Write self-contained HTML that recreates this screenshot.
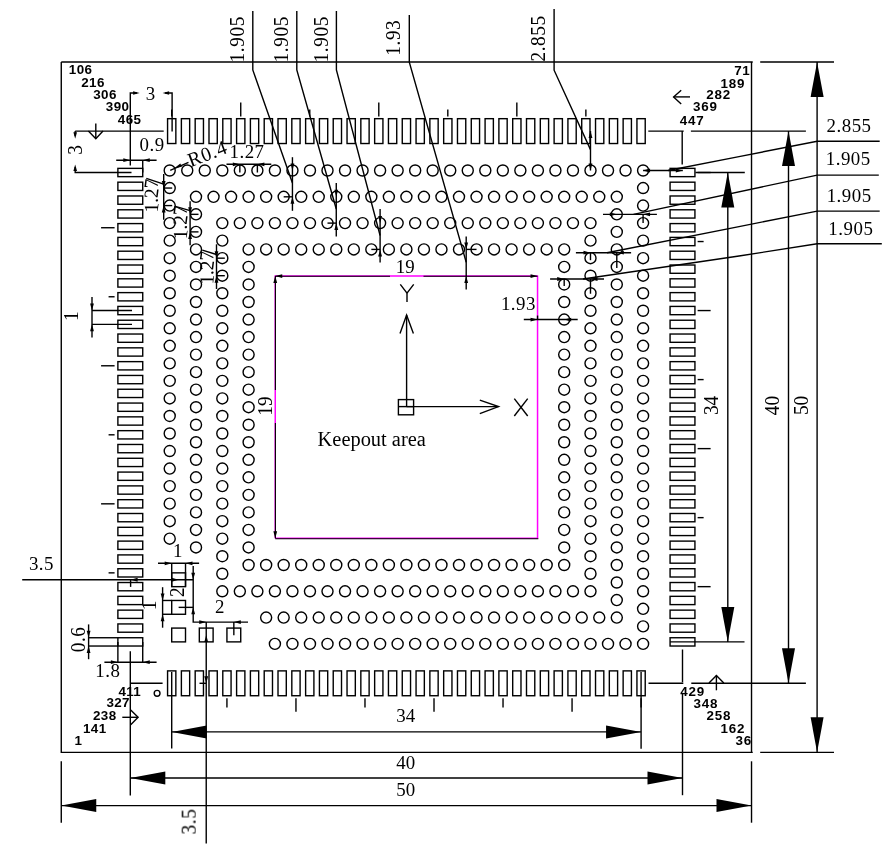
<!DOCTYPE html>
<html><head><meta charset="utf-8"><title>Package outline</title>
<style>
html,body{margin:0;padding:0;background:#fff;}
body{width:889px;height:853px;overflow:hidden;}
svg{display:block;}
.t{filter:grayscale(1);}
.l path,.l rect,.l circle{fill:none;stroke:#000;stroke-width:1.4;}
.m path{fill:none;stroke:#ff00ff;stroke-width:1.5;}
.k path{fill:none;stroke:#000;stroke-width:1.1;}
.f{fill:#000;stroke:none;}
text{fill:#000;}
.s{font-family:"Liberation Serif",serif;}
.b{font-family:"Liberation Sans",sans-serif;font-weight:bold;}
</style></head><body>
<svg width="889" height="853" viewBox="0 0 889 853">
<rect x="0" y="0" width="889" height="853" fill="#fff"/>
<g class="l">
<path d="M61.27 62.07L752.73 62.07"/>
<path d="M61.27 62.07L61.27 752.33L752.73 752.33"/>
<path d="M751.52 62.07L751.52 752.33"/>
<rect x="167.57" y="118.68" width="8.28" height="24.85"/>
<rect x="167.57" y="670.88" width="8.28" height="24.85"/>
<rect x="117.88" y="168.37" width="24.85" height="8.28"/>
<rect x="670.08" y="168.37" width="24.85" height="8.28"/>
<rect x="181.38" y="118.68" width="8.28" height="24.85"/>
<rect x="181.38" y="670.88" width="8.28" height="24.85"/>
<rect x="117.88" y="182.18" width="24.85" height="8.28"/>
<rect x="670.08" y="182.18" width="24.85" height="8.28"/>
<rect x="195.18" y="118.68" width="8.28" height="24.85"/>
<rect x="195.18" y="670.88" width="8.28" height="24.85"/>
<rect x="117.88" y="195.98" width="24.85" height="8.28"/>
<rect x="670.08" y="195.98" width="24.85" height="8.28"/>
<rect x="208.99" y="118.68" width="8.28" height="24.85"/>
<rect x="208.99" y="670.88" width="8.28" height="24.85"/>
<rect x="117.88" y="209.79" width="24.85" height="8.28"/>
<rect x="670.08" y="209.79" width="24.85" height="8.28"/>
<rect x="222.79" y="118.68" width="8.28" height="24.85"/>
<rect x="222.79" y="670.88" width="8.28" height="24.85"/>
<rect x="117.88" y="223.59" width="24.85" height="8.28"/>
<rect x="670.08" y="223.59" width="24.85" height="8.28"/>
<rect x="236.6" y="118.68" width="8.28" height="24.85"/>
<rect x="236.6" y="670.88" width="8.28" height="24.85"/>
<rect x="117.88" y="237.4" width="24.85" height="8.28"/>
<rect x="670.08" y="237.4" width="24.85" height="8.28"/>
<rect x="250.4" y="118.68" width="8.28" height="24.85"/>
<rect x="250.4" y="670.88" width="8.28" height="24.85"/>
<rect x="117.88" y="251.2" width="24.85" height="8.28"/>
<rect x="670.08" y="251.2" width="24.85" height="8.28"/>
<rect x="264.21" y="118.68" width="8.28" height="24.85"/>
<rect x="264.21" y="670.88" width="8.28" height="24.85"/>
<rect x="117.88" y="265.01" width="24.85" height="8.28"/>
<rect x="670.08" y="265.01" width="24.85" height="8.28"/>
<rect x="278.01" y="118.68" width="8.28" height="24.85"/>
<rect x="278.01" y="670.88" width="8.28" height="24.85"/>
<rect x="117.88" y="278.81" width="24.85" height="8.28"/>
<rect x="670.08" y="278.81" width="24.85" height="8.28"/>
<rect x="291.82" y="118.68" width="8.28" height="24.85"/>
<rect x="291.82" y="670.88" width="8.28" height="24.85"/>
<rect x="117.88" y="292.62" width="24.85" height="8.28"/>
<rect x="670.08" y="292.62" width="24.85" height="8.28"/>
<rect x="305.62" y="118.68" width="8.28" height="24.85"/>
<rect x="305.62" y="670.88" width="8.28" height="24.85"/>
<rect x="117.88" y="306.42" width="24.85" height="8.28"/>
<rect x="670.08" y="306.42" width="24.85" height="8.28"/>
<rect x="319.43" y="118.68" width="8.28" height="24.85"/>
<rect x="319.43" y="670.88" width="8.28" height="24.85"/>
<rect x="117.88" y="320.23" width="24.85" height="8.28"/>
<rect x="670.08" y="320.23" width="24.85" height="8.28"/>
<rect x="333.23" y="118.68" width="8.28" height="24.85"/>
<rect x="333.23" y="670.88" width="8.28" height="24.85"/>
<rect x="117.88" y="334.03" width="24.85" height="8.28"/>
<rect x="670.08" y="334.03" width="24.85" height="8.28"/>
<rect x="347.04" y="118.68" width="8.28" height="24.85"/>
<rect x="347.04" y="670.88" width="8.28" height="24.85"/>
<rect x="117.88" y="347.84" width="24.85" height="8.28"/>
<rect x="670.08" y="347.84" width="24.85" height="8.28"/>
<rect x="360.84" y="118.68" width="8.28" height="24.85"/>
<rect x="360.84" y="670.88" width="8.28" height="24.85"/>
<rect x="117.88" y="361.64" width="24.85" height="8.28"/>
<rect x="670.08" y="361.64" width="24.85" height="8.28"/>
<rect x="374.65" y="118.68" width="8.28" height="24.85"/>
<rect x="374.65" y="670.88" width="8.28" height="24.85"/>
<rect x="117.88" y="375.45" width="24.85" height="8.28"/>
<rect x="670.08" y="375.45" width="24.85" height="8.28"/>
<rect x="388.45" y="118.68" width="8.28" height="24.85"/>
<rect x="388.45" y="670.88" width="8.28" height="24.85"/>
<rect x="117.88" y="389.25" width="24.85" height="8.28"/>
<rect x="670.08" y="389.25" width="24.85" height="8.28"/>
<rect x="402.26" y="118.68" width="8.28" height="24.85"/>
<rect x="402.26" y="670.88" width="8.28" height="24.85"/>
<rect x="117.88" y="403.06" width="24.85" height="8.28"/>
<rect x="670.08" y="403.06" width="24.85" height="8.28"/>
<rect x="416.06" y="118.68" width="8.28" height="24.85"/>
<rect x="416.06" y="670.88" width="8.28" height="24.85"/>
<rect x="117.88" y="416.86" width="24.85" height="8.28"/>
<rect x="670.08" y="416.86" width="24.85" height="8.28"/>
<rect x="429.87" y="118.68" width="8.28" height="24.85"/>
<rect x="429.87" y="670.88" width="8.28" height="24.85"/>
<rect x="117.88" y="430.67" width="24.85" height="8.28"/>
<rect x="670.08" y="430.67" width="24.85" height="8.28"/>
<rect x="443.67" y="118.68" width="8.28" height="24.85"/>
<rect x="443.67" y="670.88" width="8.28" height="24.85"/>
<rect x="117.88" y="444.47" width="24.85" height="8.28"/>
<rect x="670.08" y="444.47" width="24.85" height="8.28"/>
<rect x="457.48" y="118.68" width="8.28" height="24.85"/>
<rect x="457.48" y="670.88" width="8.28" height="24.85"/>
<rect x="117.88" y="458.28" width="24.85" height="8.28"/>
<rect x="670.08" y="458.28" width="24.85" height="8.28"/>
<rect x="471.28" y="118.68" width="8.28" height="24.85"/>
<rect x="471.28" y="670.88" width="8.28" height="24.85"/>
<rect x="117.88" y="472.08" width="24.85" height="8.28"/>
<rect x="670.08" y="472.08" width="24.85" height="8.28"/>
<rect x="485.09" y="118.68" width="8.28" height="24.85"/>
<rect x="485.09" y="670.88" width="8.28" height="24.85"/>
<rect x="117.88" y="485.89" width="24.85" height="8.28"/>
<rect x="670.08" y="485.89" width="24.85" height="8.28"/>
<rect x="498.89" y="118.68" width="8.28" height="24.85"/>
<rect x="498.89" y="670.88" width="8.28" height="24.85"/>
<rect x="117.88" y="499.69" width="24.85" height="8.28"/>
<rect x="670.08" y="499.69" width="24.85" height="8.28"/>
<rect x="512.7" y="118.68" width="8.28" height="24.85"/>
<rect x="512.7" y="670.88" width="8.28" height="24.85"/>
<rect x="117.88" y="513.5" width="24.85" height="8.28"/>
<rect x="670.08" y="513.5" width="24.85" height="8.28"/>
<rect x="526.5" y="118.68" width="8.28" height="24.85"/>
<rect x="526.5" y="670.88" width="8.28" height="24.85"/>
<rect x="117.88" y="527.3" width="24.85" height="8.28"/>
<rect x="670.08" y="527.3" width="24.85" height="8.28"/>
<rect x="540.31" y="118.68" width="8.28" height="24.85"/>
<rect x="540.31" y="670.88" width="8.28" height="24.85"/>
<rect x="117.88" y="541.11" width="24.85" height="8.28"/>
<rect x="670.08" y="541.11" width="24.85" height="8.28"/>
<rect x="554.11" y="118.68" width="8.28" height="24.85"/>
<rect x="554.11" y="670.88" width="8.28" height="24.85"/>
<rect x="117.88" y="554.91" width="24.85" height="8.28"/>
<rect x="670.08" y="554.91" width="24.85" height="8.28"/>
<rect x="567.92" y="118.68" width="8.28" height="24.85"/>
<rect x="567.92" y="670.88" width="8.28" height="24.85"/>
<rect x="117.88" y="568.72" width="24.85" height="8.28"/>
<rect x="670.08" y="568.72" width="24.85" height="8.28"/>
<rect x="581.72" y="118.68" width="8.28" height="24.85"/>
<rect x="581.72" y="670.88" width="8.28" height="24.85"/>
<rect x="117.88" y="582.52" width="24.85" height="8.28"/>
<rect x="670.08" y="582.52" width="24.85" height="8.28"/>
<rect x="595.53" y="118.68" width="8.28" height="24.85"/>
<rect x="595.53" y="670.88" width="8.28" height="24.85"/>
<rect x="117.88" y="596.33" width="24.85" height="8.28"/>
<rect x="670.08" y="596.33" width="24.85" height="8.28"/>
<rect x="609.33" y="118.68" width="8.28" height="24.85"/>
<rect x="609.33" y="670.88" width="8.28" height="24.85"/>
<rect x="117.88" y="610.13" width="24.85" height="8.28"/>
<rect x="670.08" y="610.13" width="24.85" height="8.28"/>
<rect x="623.14" y="118.68" width="8.28" height="24.85"/>
<rect x="623.14" y="670.88" width="8.28" height="24.85"/>
<rect x="117.88" y="623.94" width="24.85" height="8.28"/>
<rect x="670.08" y="623.94" width="24.85" height="8.28"/>
<rect x="636.94" y="118.68" width="8.28" height="24.85"/>
<rect x="636.94" y="670.88" width="8.28" height="24.85"/>
<rect x="117.88" y="637.74" width="24.85" height="8.28"/>
<rect x="670.08" y="637.74" width="24.85" height="8.28"/>
<path d="M171.71 109.38L171.71 116.38"/>
<path d="M697.62 172.51L710.62 172.51"/>
<path d="M226.93 698.32L226.93 707.62"/>
<path d="M101.08 227.73L114.58 227.73"/>
<path d="M240.74 102.58L240.74 116.38"/>
<path d="M697.62 241.54L703.62 241.54"/>
<path d="M295.96 698.32L295.96 711.72"/>
<path d="M108.58 296.76L114.58 296.76"/>
<path d="M309.76 109.38L309.76 116.38"/>
<path d="M697.62 310.56L710.62 310.56"/>
<path d="M364.98 698.32L364.98 707.62"/>
<path d="M101.08 365.78L114.58 365.78"/>
<path d="M378.79 102.58L378.79 116.38"/>
<path d="M697.62 379.59L703.62 379.59"/>
<path d="M434.01 698.32L434.01 711.72"/>
<path d="M108.58 434.81L114.58 434.81"/>
<path d="M447.81 109.38L447.81 116.38"/>
<path d="M697.62 448.62L710.62 448.62"/>
<path d="M503.03 698.32L503.03 707.62"/>
<path d="M101.08 503.83L114.58 503.83"/>
<path d="M516.84 102.58L516.84 116.38"/>
<path d="M697.62 517.64L703.62 517.64"/>
<path d="M572.06 698.32L572.06 711.72"/>
<path d="M108.58 572.86L114.58 572.86"/>
<path d="M585.87 109.38L585.87 116.38"/>
<path d="M697.62 586.66L710.62 586.66"/>
<path d="M641.09 698.32L641.09 707.62"/>
<circle cx="169.71" cy="170.51" r="5.52"/>
<circle cx="169.71" cy="188.05" r="5.52"/>
<circle cx="169.71" cy="205.58" r="5.52"/>
<circle cx="169.71" cy="223.11" r="5.52"/>
<circle cx="169.71" cy="240.64" r="5.52"/>
<circle cx="169.71" cy="258.18" r="5.52"/>
<circle cx="169.71" cy="275.71" r="5.52"/>
<circle cx="169.71" cy="293.24" r="5.52"/>
<circle cx="169.71" cy="310.77" r="5.52"/>
<circle cx="169.71" cy="328.3" r="5.52"/>
<circle cx="169.71" cy="345.84" r="5.52"/>
<circle cx="169.71" cy="363.37" r="5.52"/>
<circle cx="169.71" cy="380.9" r="5.52"/>
<circle cx="169.71" cy="398.43" r="5.52"/>
<circle cx="169.71" cy="415.97" r="5.52"/>
<circle cx="169.71" cy="433.5" r="5.52"/>
<circle cx="169.71" cy="451.03" r="5.52"/>
<circle cx="169.71" cy="468.56" r="5.52"/>
<circle cx="169.71" cy="486.1" r="5.52"/>
<circle cx="169.71" cy="503.63" r="5.52"/>
<circle cx="169.71" cy="521.16" r="5.52"/>
<circle cx="169.71" cy="538.69" r="5.52"/>
<circle cx="187.25" cy="170.51" r="5.52"/>
<circle cx="204.78" cy="170.51" r="5.52"/>
<circle cx="222.31" cy="170.51" r="5.52"/>
<circle cx="239.84" cy="170.51" r="5.52"/>
<circle cx="257.38" cy="170.51" r="5.52"/>
<circle cx="274.91" cy="170.51" r="5.52"/>
<circle cx="274.91" cy="643.89" r="5.52"/>
<circle cx="292.44" cy="170.51" r="5.52"/>
<circle cx="292.44" cy="643.89" r="5.52"/>
<circle cx="309.97" cy="170.51" r="5.52"/>
<circle cx="309.97" cy="643.89" r="5.52"/>
<circle cx="327.5" cy="170.51" r="5.52"/>
<circle cx="327.5" cy="643.89" r="5.52"/>
<circle cx="345.04" cy="170.51" r="5.52"/>
<circle cx="345.04" cy="643.89" r="5.52"/>
<circle cx="362.57" cy="170.51" r="5.52"/>
<circle cx="362.57" cy="643.89" r="5.52"/>
<circle cx="380.1" cy="170.51" r="5.52"/>
<circle cx="380.1" cy="643.89" r="5.52"/>
<circle cx="397.63" cy="170.51" r="5.52"/>
<circle cx="397.63" cy="643.89" r="5.52"/>
<circle cx="415.17" cy="170.51" r="5.52"/>
<circle cx="415.17" cy="643.89" r="5.52"/>
<circle cx="432.7" cy="170.51" r="5.52"/>
<circle cx="432.7" cy="643.89" r="5.52"/>
<circle cx="450.23" cy="170.51" r="5.52"/>
<circle cx="450.23" cy="643.89" r="5.52"/>
<circle cx="467.76" cy="170.51" r="5.52"/>
<circle cx="467.76" cy="643.89" r="5.52"/>
<circle cx="485.3" cy="170.51" r="5.52"/>
<circle cx="485.3" cy="643.89" r="5.52"/>
<circle cx="502.83" cy="170.51" r="5.52"/>
<circle cx="502.83" cy="643.89" r="5.52"/>
<circle cx="520.36" cy="170.51" r="5.52"/>
<circle cx="520.36" cy="643.89" r="5.52"/>
<circle cx="537.89" cy="170.51" r="5.52"/>
<circle cx="537.89" cy="643.89" r="5.52"/>
<circle cx="555.42" cy="170.51" r="5.52"/>
<circle cx="555.42" cy="643.89" r="5.52"/>
<circle cx="572.96" cy="170.51" r="5.52"/>
<circle cx="572.96" cy="643.89" r="5.52"/>
<circle cx="590.49" cy="170.51" r="5.52"/>
<circle cx="590.49" cy="643.89" r="5.52"/>
<circle cx="608.02" cy="170.51" r="5.52"/>
<circle cx="608.02" cy="643.89" r="5.52"/>
<circle cx="625.55" cy="170.51" r="5.52"/>
<circle cx="625.55" cy="643.89" r="5.52"/>
<circle cx="643.09" cy="170.51" r="5.52"/>
<circle cx="643.09" cy="188.05" r="5.52"/>
<circle cx="643.09" cy="205.58" r="5.52"/>
<circle cx="643.09" cy="223.11" r="5.52"/>
<circle cx="643.09" cy="240.64" r="5.52"/>
<circle cx="643.09" cy="258.18" r="5.52"/>
<circle cx="643.09" cy="275.71" r="5.52"/>
<circle cx="643.09" cy="293.24" r="5.52"/>
<circle cx="643.09" cy="310.77" r="5.52"/>
<circle cx="643.09" cy="328.3" r="5.52"/>
<circle cx="643.09" cy="345.84" r="5.52"/>
<circle cx="643.09" cy="363.37" r="5.52"/>
<circle cx="643.09" cy="380.9" r="5.52"/>
<circle cx="643.09" cy="398.43" r="5.52"/>
<circle cx="643.09" cy="415.97" r="5.52"/>
<circle cx="643.09" cy="433.5" r="5.52"/>
<circle cx="643.09" cy="451.03" r="5.52"/>
<circle cx="643.09" cy="468.56" r="5.52"/>
<circle cx="643.09" cy="486.1" r="5.52"/>
<circle cx="643.09" cy="503.63" r="5.52"/>
<circle cx="643.09" cy="521.16" r="5.52"/>
<circle cx="643.09" cy="538.69" r="5.52"/>
<circle cx="643.09" cy="556.22" r="5.52"/>
<circle cx="643.09" cy="573.76" r="5.52"/>
<circle cx="643.09" cy="591.29" r="5.52"/>
<circle cx="643.09" cy="608.82" r="5.52"/>
<circle cx="643.09" cy="626.35" r="5.52"/>
<circle cx="643.09" cy="643.89" r="5.52"/>
<circle cx="196.01" cy="196.81" r="5.52"/>
<circle cx="196.01" cy="214.34" r="5.52"/>
<circle cx="196.01" cy="231.88" r="5.52"/>
<circle cx="196.01" cy="249.41" r="5.52"/>
<circle cx="196.01" cy="266.94" r="5.52"/>
<circle cx="196.01" cy="284.47" r="5.52"/>
<circle cx="196.01" cy="302.01" r="5.52"/>
<circle cx="196.01" cy="319.54" r="5.52"/>
<circle cx="196.01" cy="337.07" r="5.52"/>
<circle cx="196.01" cy="354.6" r="5.52"/>
<circle cx="196.01" cy="372.14" r="5.52"/>
<circle cx="196.01" cy="389.67" r="5.52"/>
<circle cx="196.01" cy="407.2" r="5.52"/>
<circle cx="196.01" cy="424.73" r="5.52"/>
<circle cx="196.01" cy="442.26" r="5.52"/>
<circle cx="196.01" cy="459.8" r="5.52"/>
<circle cx="196.01" cy="477.33" r="5.52"/>
<circle cx="196.01" cy="494.86" r="5.52"/>
<circle cx="196.01" cy="512.39" r="5.52"/>
<circle cx="196.01" cy="529.93" r="5.52"/>
<circle cx="196.01" cy="547.46" r="5.52"/>
<circle cx="213.54" cy="196.81" r="5.52"/>
<circle cx="231.08" cy="196.81" r="5.52"/>
<circle cx="248.61" cy="196.81" r="5.52"/>
<circle cx="266.14" cy="196.81" r="5.52"/>
<circle cx="266.14" cy="617.59" r="5.52"/>
<circle cx="283.67" cy="196.81" r="5.52"/>
<circle cx="283.67" cy="617.59" r="5.52"/>
<circle cx="301.21" cy="196.81" r="5.52"/>
<circle cx="301.21" cy="617.59" r="5.52"/>
<circle cx="318.74" cy="196.81" r="5.52"/>
<circle cx="318.74" cy="617.59" r="5.52"/>
<circle cx="336.27" cy="196.81" r="5.52"/>
<circle cx="336.27" cy="617.59" r="5.52"/>
<circle cx="353.8" cy="196.81" r="5.52"/>
<circle cx="353.8" cy="617.59" r="5.52"/>
<circle cx="371.34" cy="196.81" r="5.52"/>
<circle cx="371.34" cy="617.59" r="5.52"/>
<circle cx="388.87" cy="196.81" r="5.52"/>
<circle cx="388.87" cy="617.59" r="5.52"/>
<circle cx="406.4" cy="196.81" r="5.52"/>
<circle cx="406.4" cy="617.59" r="5.52"/>
<circle cx="423.93" cy="196.81" r="5.52"/>
<circle cx="423.93" cy="617.59" r="5.52"/>
<circle cx="441.46" cy="196.81" r="5.52"/>
<circle cx="441.46" cy="617.59" r="5.52"/>
<circle cx="459" cy="196.81" r="5.52"/>
<circle cx="459" cy="617.59" r="5.52"/>
<circle cx="476.53" cy="196.81" r="5.52"/>
<circle cx="476.53" cy="617.59" r="5.52"/>
<circle cx="494.06" cy="196.81" r="5.52"/>
<circle cx="494.06" cy="617.59" r="5.52"/>
<circle cx="511.59" cy="196.81" r="5.52"/>
<circle cx="511.59" cy="617.59" r="5.52"/>
<circle cx="529.13" cy="196.81" r="5.52"/>
<circle cx="529.13" cy="617.59" r="5.52"/>
<circle cx="546.66" cy="196.81" r="5.52"/>
<circle cx="546.66" cy="617.59" r="5.52"/>
<circle cx="564.19" cy="196.81" r="5.52"/>
<circle cx="564.19" cy="617.59" r="5.52"/>
<circle cx="581.72" cy="196.81" r="5.52"/>
<circle cx="581.72" cy="617.59" r="5.52"/>
<circle cx="599.26" cy="196.81" r="5.52"/>
<circle cx="599.26" cy="617.59" r="5.52"/>
<circle cx="616.79" cy="196.81" r="5.52"/>
<circle cx="616.79" cy="214.34" r="5.52"/>
<circle cx="616.79" cy="231.88" r="5.52"/>
<circle cx="616.79" cy="249.41" r="5.52"/>
<circle cx="616.79" cy="266.94" r="5.52"/>
<circle cx="616.79" cy="284.47" r="5.52"/>
<circle cx="616.79" cy="302.01" r="5.52"/>
<circle cx="616.79" cy="319.54" r="5.52"/>
<circle cx="616.79" cy="337.07" r="5.52"/>
<circle cx="616.79" cy="354.6" r="5.52"/>
<circle cx="616.79" cy="372.14" r="5.52"/>
<circle cx="616.79" cy="389.67" r="5.52"/>
<circle cx="616.79" cy="407.2" r="5.52"/>
<circle cx="616.79" cy="424.73" r="5.52"/>
<circle cx="616.79" cy="442.26" r="5.52"/>
<circle cx="616.79" cy="459.8" r="5.52"/>
<circle cx="616.79" cy="477.33" r="5.52"/>
<circle cx="616.79" cy="494.86" r="5.52"/>
<circle cx="616.79" cy="512.39" r="5.52"/>
<circle cx="616.79" cy="529.93" r="5.52"/>
<circle cx="616.79" cy="547.46" r="5.52"/>
<circle cx="616.79" cy="564.99" r="5.52"/>
<circle cx="616.79" cy="582.52" r="5.52"/>
<circle cx="616.79" cy="600.06" r="5.52"/>
<circle cx="616.79" cy="617.59" r="5.52"/>
<circle cx="222.31" cy="223.11" r="5.52"/>
<circle cx="222.31" cy="240.64" r="5.52"/>
<circle cx="222.31" cy="258.18" r="5.52"/>
<circle cx="222.31" cy="275.71" r="5.52"/>
<circle cx="222.31" cy="293.24" r="5.52"/>
<circle cx="222.31" cy="310.77" r="5.52"/>
<circle cx="222.31" cy="328.3" r="5.52"/>
<circle cx="222.31" cy="345.84" r="5.52"/>
<circle cx="222.31" cy="363.37" r="5.52"/>
<circle cx="222.31" cy="380.9" r="5.52"/>
<circle cx="222.31" cy="398.43" r="5.52"/>
<circle cx="222.31" cy="415.97" r="5.52"/>
<circle cx="222.31" cy="433.5" r="5.52"/>
<circle cx="222.31" cy="451.03" r="5.52"/>
<circle cx="222.31" cy="468.56" r="5.52"/>
<circle cx="222.31" cy="486.1" r="5.52"/>
<circle cx="222.31" cy="503.63" r="5.52"/>
<circle cx="222.31" cy="521.16" r="5.52"/>
<circle cx="222.31" cy="538.69" r="5.52"/>
<circle cx="222.31" cy="556.22" r="5.52"/>
<circle cx="222.31" cy="573.76" r="5.52"/>
<circle cx="222.31" cy="591.29" r="5.52"/>
<circle cx="239.84" cy="223.11" r="5.52"/>
<circle cx="239.84" cy="591.29" r="5.52"/>
<circle cx="257.38" cy="223.11" r="5.52"/>
<circle cx="257.38" cy="591.29" r="5.52"/>
<circle cx="274.91" cy="223.11" r="5.52"/>
<circle cx="274.91" cy="591.29" r="5.52"/>
<circle cx="292.44" cy="223.11" r="5.52"/>
<circle cx="292.44" cy="591.29" r="5.52"/>
<circle cx="309.97" cy="223.11" r="5.52"/>
<circle cx="309.97" cy="591.29" r="5.52"/>
<circle cx="327.5" cy="223.11" r="5.52"/>
<circle cx="327.5" cy="591.29" r="5.52"/>
<circle cx="345.04" cy="223.11" r="5.52"/>
<circle cx="345.04" cy="591.29" r="5.52"/>
<circle cx="362.57" cy="223.11" r="5.52"/>
<circle cx="362.57" cy="591.29" r="5.52"/>
<circle cx="380.1" cy="223.11" r="5.52"/>
<circle cx="380.1" cy="591.29" r="5.52"/>
<circle cx="397.63" cy="223.11" r="5.52"/>
<circle cx="397.63" cy="591.29" r="5.52"/>
<circle cx="415.17" cy="223.11" r="5.52"/>
<circle cx="415.17" cy="591.29" r="5.52"/>
<circle cx="432.7" cy="223.11" r="5.52"/>
<circle cx="432.7" cy="591.29" r="5.52"/>
<circle cx="450.23" cy="223.11" r="5.52"/>
<circle cx="450.23" cy="591.29" r="5.52"/>
<circle cx="467.76" cy="223.11" r="5.52"/>
<circle cx="467.76" cy="591.29" r="5.52"/>
<circle cx="485.3" cy="223.11" r="5.52"/>
<circle cx="485.3" cy="591.29" r="5.52"/>
<circle cx="502.83" cy="223.11" r="5.52"/>
<circle cx="502.83" cy="591.29" r="5.52"/>
<circle cx="520.36" cy="223.11" r="5.52"/>
<circle cx="520.36" cy="591.29" r="5.52"/>
<circle cx="537.89" cy="223.11" r="5.52"/>
<circle cx="537.89" cy="591.29" r="5.52"/>
<circle cx="555.42" cy="223.11" r="5.52"/>
<circle cx="555.42" cy="591.29" r="5.52"/>
<circle cx="572.96" cy="223.11" r="5.52"/>
<circle cx="572.96" cy="591.29" r="5.52"/>
<circle cx="590.49" cy="223.11" r="5.52"/>
<circle cx="590.49" cy="240.64" r="5.52"/>
<circle cx="590.49" cy="258.18" r="5.52"/>
<circle cx="590.49" cy="275.71" r="5.52"/>
<circle cx="590.49" cy="293.24" r="5.52"/>
<circle cx="590.49" cy="310.77" r="5.52"/>
<circle cx="590.49" cy="328.3" r="5.52"/>
<circle cx="590.49" cy="345.84" r="5.52"/>
<circle cx="590.49" cy="363.37" r="5.52"/>
<circle cx="590.49" cy="380.9" r="5.52"/>
<circle cx="590.49" cy="398.43" r="5.52"/>
<circle cx="590.49" cy="415.97" r="5.52"/>
<circle cx="590.49" cy="433.5" r="5.52"/>
<circle cx="590.49" cy="451.03" r="5.52"/>
<circle cx="590.49" cy="468.56" r="5.52"/>
<circle cx="590.49" cy="486.1" r="5.52"/>
<circle cx="590.49" cy="503.63" r="5.52"/>
<circle cx="590.49" cy="521.16" r="5.52"/>
<circle cx="590.49" cy="538.69" r="5.52"/>
<circle cx="590.49" cy="556.22" r="5.52"/>
<circle cx="590.49" cy="573.76" r="5.52"/>
<circle cx="590.49" cy="591.29" r="5.52"/>
<circle cx="248.61" cy="249.41" r="5.52"/>
<circle cx="248.61" cy="266.94" r="5.52"/>
<circle cx="248.61" cy="284.47" r="5.52"/>
<circle cx="248.61" cy="302.01" r="5.52"/>
<circle cx="248.61" cy="319.54" r="5.52"/>
<circle cx="248.61" cy="337.07" r="5.52"/>
<circle cx="248.61" cy="354.6" r="5.52"/>
<circle cx="248.61" cy="372.14" r="5.52"/>
<circle cx="248.61" cy="389.67" r="5.52"/>
<circle cx="248.61" cy="407.2" r="5.52"/>
<circle cx="248.61" cy="424.73" r="5.52"/>
<circle cx="248.61" cy="442.26" r="5.52"/>
<circle cx="248.61" cy="459.8" r="5.52"/>
<circle cx="248.61" cy="477.33" r="5.52"/>
<circle cx="248.61" cy="494.86" r="5.52"/>
<circle cx="248.61" cy="512.39" r="5.52"/>
<circle cx="248.61" cy="529.93" r="5.52"/>
<circle cx="248.61" cy="547.46" r="5.52"/>
<circle cx="248.61" cy="564.99" r="5.52"/>
<circle cx="266.14" cy="249.41" r="5.52"/>
<circle cx="266.14" cy="564.99" r="5.52"/>
<circle cx="283.67" cy="249.41" r="5.52"/>
<circle cx="283.67" cy="564.99" r="5.52"/>
<circle cx="301.21" cy="249.41" r="5.52"/>
<circle cx="301.21" cy="564.99" r="5.52"/>
<circle cx="318.74" cy="249.41" r="5.52"/>
<circle cx="318.74" cy="564.99" r="5.52"/>
<circle cx="336.27" cy="249.41" r="5.52"/>
<circle cx="336.27" cy="564.99" r="5.52"/>
<circle cx="353.8" cy="249.41" r="5.52"/>
<circle cx="353.8" cy="564.99" r="5.52"/>
<circle cx="371.34" cy="249.41" r="5.52"/>
<circle cx="371.34" cy="564.99" r="5.52"/>
<circle cx="388.87" cy="249.41" r="5.52"/>
<circle cx="388.87" cy="564.99" r="5.52"/>
<circle cx="406.4" cy="249.41" r="5.52"/>
<circle cx="406.4" cy="564.99" r="5.52"/>
<circle cx="423.93" cy="249.41" r="5.52"/>
<circle cx="423.93" cy="564.99" r="5.52"/>
<circle cx="441.46" cy="249.41" r="5.52"/>
<circle cx="441.46" cy="564.99" r="5.52"/>
<circle cx="459" cy="249.41" r="5.52"/>
<circle cx="459" cy="564.99" r="5.52"/>
<circle cx="476.53" cy="249.41" r="5.52"/>
<circle cx="476.53" cy="564.99" r="5.52"/>
<circle cx="494.06" cy="249.41" r="5.52"/>
<circle cx="494.06" cy="564.99" r="5.52"/>
<circle cx="511.59" cy="249.41" r="5.52"/>
<circle cx="511.59" cy="564.99" r="5.52"/>
<circle cx="529.13" cy="249.41" r="5.52"/>
<circle cx="529.13" cy="564.99" r="5.52"/>
<circle cx="546.66" cy="249.41" r="5.52"/>
<circle cx="546.66" cy="564.99" r="5.52"/>
<circle cx="564.19" cy="249.41" r="5.52"/>
<circle cx="564.19" cy="266.94" r="5.52"/>
<circle cx="564.19" cy="284.47" r="5.52"/>
<circle cx="564.19" cy="302.01" r="5.52"/>
<circle cx="564.19" cy="319.54" r="5.52"/>
<circle cx="564.19" cy="337.07" r="5.52"/>
<circle cx="564.19" cy="354.6" r="5.52"/>
<circle cx="564.19" cy="372.14" r="5.52"/>
<circle cx="564.19" cy="389.67" r="5.52"/>
<circle cx="564.19" cy="407.2" r="5.52"/>
<circle cx="564.19" cy="424.73" r="5.52"/>
<circle cx="564.19" cy="442.26" r="5.52"/>
<circle cx="564.19" cy="459.8" r="5.52"/>
<circle cx="564.19" cy="477.33" r="5.52"/>
<circle cx="564.19" cy="494.86" r="5.52"/>
<circle cx="564.19" cy="512.39" r="5.52"/>
<circle cx="564.19" cy="529.93" r="5.52"/>
<circle cx="564.19" cy="547.46" r="5.52"/>
<circle cx="564.19" cy="564.99" r="5.52"/>
<rect x="171.71" y="572.86" width="13.8" height="13.8"/>
<rect x="171.71" y="600.47" width="13.8" height="13.8"/>
<rect x="171.71" y="628.08" width="13.8" height="13.8"/>
<rect x="199.32" y="628.08" width="13.8" height="13.8"/>
<rect x="226.93" y="628.08" width="13.8" height="13.8"/>
<circle cx="157.1" cy="693.3" r="2.9"/>
</g>
<g class="m">
<path d="M275.25 538.35L275.25 276.05L537.55 276.05" stroke-width="1.1"/>
<path d="M275.25 538.35L537.55 538.35" stroke-width="1.3"/>
<path d="M537.55 275.55L537.55 538.85"/>
</g>
<g class="k">
<path d="M275.25 276.2L390 276.2"/>
<path d="M423.5 276.2L537.55 276.2"/>
<path d="M275.4 276.05L275.4 390"/>
<path d="M275.4 423L275.4 538.35"/>
<path d="M275.25 538.8L538.35 538.8"/>
</g>
<path class="f" d="M275.25 276.05L282.25 274.15L282.25 277.95Z"/>
<path class="f" d="M537.55 276.05L530.55 277.95L530.55 274.15Z"/>
<path class="f" d="M275.25 276.05L277.15 283.05L273.35 283.05Z"/>
<path class="f" d="M275.25 538.35L273.35 531.35L277.15 531.35Z"/>
<g class="l">
<path d="M406.6 406.6L406.6 315"/>
<path d="M400 333.4L406.6 315L413.4 333.4"/>
<path d="M406.6 406.6L498.5 406.6"/>
<path d="M479.8 400.2L498.5 406.6L479.8 413.6"/>
<rect x="398.4" y="399.6" width="15.2" height="15.2"/>
<path d="M398.4 406.6L413.6 406.6"/>
<path d="M400.3 284.3L407 293.2L413.7 284.3"/>
<path d="M407 293.2L407 302"/>
<path d="M514.3 398.6L527.7 416"/>
<path d="M527.7 398.6L514.3 416"/>
</g>
<g class="l">
<path d="M727.8 172.51L727.8 641.88"/>
<path d="M695.42 172.51L744.8 172.51"/>
<path d="M670.08 641.88L744.5 641.88"/>
<path d="M788.5 131.1L788.5 683.3"/>
<path d="M648.3 131.1L683.7 131.1"/>
<path d="M690.9 131.1L805.9 131.1"/>
<path d="M648.5 683.3L683.3 683.3"/>
<path d="M691.3 683.3L805.9 683.3"/>
<path d="M817.1 62.07L817.1 752.33"/>
<path d="M760.2 62.07L834 62.07"/>
<path d="M760.2 752.33L834 752.33"/>
<path d="M171.71 731.9L641.09 731.9"/>
<path d="M171.71 671.88L171.71 748.6"/>
<path d="M641.09 671.88L641.09 748.7"/>
<path d="M130.3 778L682.5 778"/>
<path d="M130.3 651.3L130.3 795.4"/>
<path d="M682.5 649.5L682.5 682.3"/>
<path d="M682.5 692.8L682.5 795.2"/>
<path d="M61.27 805.6L751.52 805.6"/>
<path d="M61.27 761.2L61.27 822.8"/>
<path d="M751.52 761.3L751.52 822.7"/>
<path d="M682.2 131.1L682.2 164.4"/>
</g>
<path class="f" d="M727.8 172.51L734.3 207.51L721.3 207.51Z"/>
<path class="f" d="M727.8 641.88L721.3 606.88L734.3 606.88Z"/>
<path class="f" d="M788.5 131.1L795 166.1L782 166.1Z"/>
<path class="f" d="M788.5 683.3L782 648.3L795 648.3Z"/>
<path class="f" d="M817.1 62.07L823.6 97.07L810.6 97.07Z"/>
<path class="f" d="M817.1 752.33L810.6 717.33L823.6 717.33Z"/>
<path class="f" d="M171.71 731.9L206.71 725.4L206.71 738.4Z"/>
<path class="f" d="M641.09 731.9L606.09 738.4L606.09 725.4Z"/>
<path class="f" d="M130.3 778L165.3 771.5L165.3 784.5Z"/>
<path class="f" d="M682.5 778L647.5 784.5L647.5 771.5Z"/>
<path class="f" d="M61.27 805.6L96.27 799.1L96.27 812.1Z"/>
<path class="f" d="M751.52 805.6L716.52 812.1L716.52 799.1Z"/>
<g class="l">
<path d="M643.09 170.51L682.8 170.51"/>
<path d="M879.7 141.2L817.2 141.2L739 156.6L668 170.51"/>
<path d="M603 214.34L656.9 214.34"/>
<path d="M643.09 214.34L643.09 223.11"/>
<path d="M878.8 175.1L817.2 175.1L633.5 214.34"/>
<path d="M575.9 252.7L631.1 252.7"/>
<path d="M590.49 252.7L590.49 260.18"/>
<path d="M616.79 252.7L616.79 267.94"/>
<path d="M879.7 211.1L817.2 211.1L739 226.6L607 252.7"/>
<path d="M550.1 279L604 279"/>
<path d="M564.19 279L564.19 285.97"/>
<path d="M590.49 279L590.49 293.74"/>
<path d="M881.8 243.8L817.2 243.8L739 256L583 279"/>
<path d="M523.8 319.54L577.7 319.54"/>
<path d="M537.55 319.54L537.55 315.54"/>
</g>
<path class="f" d="M643.09 170.51L650.09 168.61L650.09 172.41Z"/>
<path class="f" d="M682.8 170.51L675.8 172.41L675.8 168.61Z"/>
<path class="f" d="M616.79 214.34L609.79 216.24L609.79 212.44Z"/>
<path class="f" d="M643.09 214.34L650.09 212.44L650.09 216.24Z"/>
<path class="f" d="M590.49 252.7L583.49 254.6L583.49 250.8Z"/>
<path class="f" d="M616.79 252.7L623.79 250.8L623.79 254.6Z"/>
<path class="f" d="M564.19 279L557.19 280.9L557.19 277.1Z"/>
<path class="f" d="M590.49 279L597.49 277.1L597.49 280.9Z"/>
<path class="f" d="M537.55 319.54L530.55 321.44L530.55 317.64Z"/>
<path class="f" d="M564.19 319.54L571.19 317.64L571.19 321.44Z"/>
<g class="l">
<path d="M292.44 157.2L292.44 210.8"/>
<path d="M283.67 196.81L292.44 196.81"/>
<path d="M252.8 11L252.8 70L292.44 183"/>
<path d="M336.27 183.1L336.27 236.4"/>
<path d="M327.5 223.11L336.27 223.11"/>
<path d="M296.8 11L296.8 70L336.27 209"/>
<path d="M380.1 209.1L380.1 262.6"/>
<path d="M371.34 249.41L380.1 249.41"/>
<path d="M336.4 11L336.4 70L380.1 235.5"/>
<path d="M409.3 15L409.3 62.07L466.2 262.2"/>
<path d="M466.2 236.4L466.2 289.6"/>
<path d="M466.2 249.41L476.53 249.41"/>
<path d="M590.49 131.1L590.49 170.51"/>
<path d="M554.1 9L554.1 70.2L590.49 149.6"/>
</g>
<path class="f" d="M292.44 170.51L290.54 163.51L294.34 163.51Z"/>
<path class="f" d="M292.44 196.81L294.34 203.81L290.54 203.81Z"/>
<path class="f" d="M336.27 196.81L334.37 189.81L338.17 189.81Z"/>
<path class="f" d="M336.27 223.11L338.17 230.11L334.37 230.11Z"/>
<path class="f" d="M380.1 223.11L378.2 216.11L382 216.11Z"/>
<path class="f" d="M380.1 249.41L382 256.41L378.2 256.41Z"/>
<path class="f" d="M590.49 131.1L592.39 138.1L588.59 138.1Z"/>
<path class="f" d="M590.49 170.51L588.59 163.51L592.39 163.51Z"/>
<path class="f" d="M466.2 249.41L464.3 242.41L468.1 242.41Z"/>
<path class="f" d="M466.2 276.05L468.1 283.05L464.3 283.05Z"/>
<g class="l">
<path d="M137 93L130.3 93L130.3 165.4"/>
<path d="M165 93L172.11 93L172.11 131.5"/>
<path d="M75.2 131.1L163.7 131.1"/>
<path d="M75.2 131.1L75.2 136"/>
<path d="M75.2 167L75.2 172.51L131.5 172.51"/>
<path d="M95.8 123.6L95.8 138.8"/>
<path d="M88.4 131.1L95.8 138.8L103 131.1"/>
<path d="M116.2 160.2L156.6 160.2"/>
<path d="M142.72 160.2L142.72 172.51"/>
<path d="M170.21 170.31L188.5 162.3"/>
<path d="M226.5 164.3L271.3 164.3"/>
<path d="M239.84 164.3L239.84 172.51"/>
<path d="M257.38 164.3L257.38 172.51"/>
<path d="M163.7 174L163.7 219.7"/>
<path d="M163.7 188.05L172.21 188.05"/>
<path d="M163.7 205.58L172.21 205.58"/>
<path d="M146.3 178.4L163.7 184.2"/>
<path d="M190.1 201.2L190.1 245.2"/>
<path d="M190.1 214.34L198.51 214.34"/>
<path d="M190.1 231.88L198.51 231.88"/>
<path d="M175.3 206.4L190.1 210.7"/>
<path d="M216.5 244.3L216.5 289"/>
<path d="M216.5 258.18L224.81 258.18"/>
<path d="M216.5 275.71L224.81 275.71"/>
<path d="M202.3 250.2L216.5 254.5"/>
</g>
<path class="f" d="M139.6 93L133.1 94.8L133.1 91.2Z"/>
<path class="f" d="M162.6 93L169.1 91.2L169.1 94.8Z"/>
<path class="f" d="M75.2 138.8L73.4 132.3L77 132.3Z"/>
<path class="f" d="M75.2 164.4L77 170.9L73.4 170.9Z"/>
<path class="f" d="M130.3 160.2L123.3 162.1L123.3 158.3Z"/>
<path class="f" d="M142.72 160.2L149.72 158.3L149.72 162.1Z"/>
<path class="f" d="M174.31 168.31L180.31 163.42L181.91 166.86Z"/>
<path class="f" d="M239.84 164.3L232.84 166.2L232.84 162.4Z"/>
<path class="f" d="M257.38 164.3L264.38 162.4L264.38 166.2Z"/>
<path class="f" d="M163.7 188.05L161.8 181.05L165.6 181.05Z"/>
<path class="f" d="M163.7 205.58L165.6 212.58L161.8 212.58Z"/>
<path class="f" d="M190.1 214.34L188.2 207.34L192 207.34Z"/>
<path class="f" d="M190.1 231.88L192 238.88L188.2 238.88Z"/>
<path class="f" d="M216.5 258.18L214.6 251.18L218.4 251.18Z"/>
<path class="f" d="M216.5 275.71L218.4 282.71L214.6 282.71Z"/>
<g class="l">
<path d="M92 310.56L132 310.56"/>
<path d="M92 324.37L132 324.37"/>
<path d="M92 297.1L92 337.6"/>
</g>
<path class="f" d="M92 310.56L90.1 303.56L93.9 303.56Z"/>
<path class="f" d="M92 324.37L93.9 331.37L90.1 331.37Z"/>
<g class="l">
<path d="M22.2 579.76L193.2 579.76"/>
<path d="M130.6 579.76L130.6 586.9"/>
<path d="M158 563.3L199.1 563.3"/>
<path d="M171.71 563.3L171.71 586.67"/>
<path d="M185.52 563.3L185.52 586.67"/>
<path d="M193.2 566.1L193.2 622.1L248 622.1"/>
<path d="M178.62 607.37L193.2 607.37"/>
<path d="M162.6 587.2L162.6 627.7"/>
<path d="M162.6 600.47L171.71 600.47"/>
<path d="M162.6 614.27L171.71 614.27"/>
<path d="M206.23 622.1L206.23 843.5"/>
<path d="M233.84 622.1L233.84 635.2"/>
<path d="M88.6 624.4L88.6 659.2"/>
<path d="M88.6 637.74L117.88 637.74"/>
<path d="M88.6 646.03L117.88 646.03"/>
<path d="M104.4 662.2L156.6 662.2"/>
<path d="M117.88 641.88L117.88 662.2"/>
<path d="M142.72 641.88L142.72 662.2"/>
<path d="M130.3 683.3L162.6 683.3"/>
<path d="M199.5 683.3L206.23 683.3"/>
<path d="M122.3 717.3L138.1 717.3"/>
<path d="M130.7 709.9L138.1 717.3L130.7 724.7"/>
<path d="M673.6 96.9L690 96.9"/>
<path d="M681.2 90.2L673.6 96.9L681.2 103.9"/>
<path d="M716.4 675.5L716.4 690.3"/>
<path d="M709 682.9L716.4 675.5L723.8 682.9"/>
</g>
<path class="f" d="M130.6 579.76L137.6 577.86L137.6 581.66Z"/>
<path class="f" d="M178.62 579.76L171.62 581.66L171.62 577.86Z"/>
<path class="f" d="M171.71 563.3L164.71 565.2L164.71 561.4Z"/>
<path class="f" d="M185.52 563.3L192.52 561.4L192.52 565.2Z"/>
<path class="f" d="M193.2 579.76L191.3 572.76L195.1 572.76Z"/>
<path class="f" d="M193.2 607.37L195.1 614.37L191.3 614.37Z"/>
<path class="f" d="M162.6 600.47L160.7 593.47L164.5 593.47Z"/>
<path class="f" d="M162.6 614.27L164.5 621.27L160.7 621.27Z"/>
<path class="f" d="M206.23 622.1L199.23 624L199.23 620.2Z"/>
<path class="f" d="M233.84 622.1L240.84 620.2L240.84 624Z"/>
<path class="f" d="M206.23 634.98L208.13 641.98L204.33 641.98Z"/>
<path class="f" d="M206.23 683.3L204.33 676.3L208.13 676.3Z"/>
<path class="f" d="M88.6 637.74L86.7 630.74L90.5 630.74Z"/>
<path class="f" d="M88.6 646.03L90.5 653.03L86.7 653.03Z"/>
<path class="f" d="M117.88 662.2L110.88 664.1L110.88 660.3Z"/>
<path class="f" d="M142.72 662.2L149.72 660.3L149.72 664.1Z"/>
<g class="t">
<text class="s" transform="translate(405.8 721.9) scale(0.98 1)" font-size="19.3" text-anchor="middle">34</text>
<text class="s" transform="translate(405.8 769) scale(0.98 1)" font-size="19.3" text-anchor="middle">40</text>
<text class="s" transform="translate(405.8 796) scale(0.98 1)" font-size="19.3" text-anchor="middle">50</text>
<text class="s" transform="translate(717.9 405.4) scale(1.05 1) rotate(-90)" font-size="19.3" text-anchor="middle">34</text>
<text class="s" transform="translate(778.7 405.5) scale(1.05 1) rotate(-90)" font-size="19.3" text-anchor="middle">40</text>
<text class="s" transform="translate(807.6 405.4) scale(1.05 1) rotate(-90)" font-size="19.3" text-anchor="middle">50</text>
<text class="s" transform="translate(849.05 131.6) scale(0.98 1)" font-size="19.3" text-anchor="middle" letter-spacing="0.5">2.855</text>
<text class="s" transform="translate(848.25 164.6) scale(0.98 1)" font-size="19.3" text-anchor="middle" letter-spacing="0.5">1.905</text>
<text class="s" transform="translate(849.15 201.7) scale(0.98 1)" font-size="19.3" text-anchor="middle" letter-spacing="0.5">1.905</text>
<text class="s" transform="translate(850.85 234.7) scale(0.98 1)" font-size="19.3" text-anchor="middle" letter-spacing="0.5">1.905</text>
<text class="s" transform="translate(518.45 310) scale(0.98 1)" font-size="19.3" text-anchor="middle" letter-spacing="0.5">1.93</text>
<text class="s" transform="translate(243.8 39.2) scale(1.05 1) rotate(-90)" font-size="19.3" text-anchor="middle" letter-spacing="0.6">1.905</text>
<text class="s" transform="translate(287.8 39.2) scale(1.05 1) rotate(-90)" font-size="19.3" text-anchor="middle" letter-spacing="0.6">1.905</text>
<text class="s" transform="translate(327.5 39.2) scale(1.05 1) rotate(-90)" font-size="19.3" text-anchor="middle" letter-spacing="0.6">1.905</text>
<text class="s" transform="translate(399.6 37.7) scale(1.05 1) rotate(-90)" font-size="19.3" text-anchor="middle" letter-spacing="0.6">1.93</text>
<text class="s" transform="translate(544.6 38.4) scale(1.05 1) rotate(-90)" font-size="19.3" text-anchor="middle" letter-spacing="0.6">2.855</text>
<text class="s" transform="translate(150.4 99.7) scale(0.98 1)" font-size="19.3" text-anchor="middle">3</text>
<text class="s" transform="translate(82 150) scale(1.05 1) rotate(-90)" font-size="19.3" text-anchor="middle">3</text>
<text class="s" transform="translate(152.05 151.2) scale(0.98 1)" font-size="19.3" text-anchor="middle" letter-spacing="0.5">0.9</text>
<text class="s" transform="translate(247.05 158.4) scale(0.98 1)" font-size="19.3" text-anchor="middle" letter-spacing="0.5">1.27</text>
<text class="s" transform="translate(209.8 159.9) scale(0.98 1) rotate(-21)" font-size="20.07" text-anchor="middle" letter-spacing="0.8">R0.4</text>
<text class="s" transform="translate(157.6 212.4) scale(1.05 1) rotate(-90) skewY(7)" font-size="19.3">1</text>
<text class="s" transform="translate(157.6 202.75) scale(1.05 1) rotate(-90) skewY(7)" font-size="19.3">.</text>
<text class="s" transform="translate(157.6 197.93) scale(1.05 1) rotate(-90) skewY(7)" font-size="19.3">2</text>
<text class="s" transform="translate(157.6 188.28) scale(1.05 1) rotate(-90) skewY(7)" font-size="19.3">7</text>
<text class="s" transform="translate(186.6 239.2) scale(1.05 1) rotate(-90) skewY(7)" font-size="19.3">1</text>
<text class="s" transform="translate(186.6 229.55) scale(1.05 1) rotate(-90) skewY(7)" font-size="19.3">.</text>
<text class="s" transform="translate(186.6 224.72) scale(1.05 1) rotate(-90) skewY(7)" font-size="19.3">2</text>
<text class="s" transform="translate(186.6 215.07) scale(1.05 1) rotate(-90) skewY(7)" font-size="19.3">7</text>
<text class="s" transform="translate(213 284.6) scale(1.05 1) rotate(-90) skewY(7)" font-size="19.3">1</text>
<text class="s" transform="translate(213 274.95) scale(1.05 1) rotate(-90) skewY(7)" font-size="19.3">.</text>
<text class="s" transform="translate(213 270.13) scale(1.05 1) rotate(-90) skewY(7)" font-size="19.3">2</text>
<text class="s" transform="translate(213 260.48) scale(1.05 1) rotate(-90) skewY(7)" font-size="19.3">7</text>
<text class="s" transform="translate(77.7 316.2) scale(1.05 1) rotate(-90)" font-size="19.3" text-anchor="middle">1</text>
<text class="s" transform="translate(41.45 570.4) scale(0.98 1)" font-size="19.3" text-anchor="middle" letter-spacing="0.5">3.5</text>
<text class="s" transform="translate(177.8 556.7) scale(0.98 1)" font-size="19.3" text-anchor="middle">1</text>
<text class="s" transform="translate(219.8 612.8) scale(0.98 1)" font-size="19.3" text-anchor="middle">2</text>
<text class="s" transform="translate(183.6 592.1) scale(1.05 1) rotate(-90)" font-size="19.3" text-anchor="middle">2</text>
<text class="s" transform="translate(156.2 605.5) scale(1.05 1) rotate(-90)" font-size="19.3" text-anchor="middle">1</text>
<text class="s" transform="translate(85.4 639.4) scale(1.05 1) rotate(-90)" font-size="19.3" text-anchor="middle" letter-spacing="0.6">0.6</text>
<text class="s" transform="translate(107.85 677) scale(0.98 1)" font-size="19.3" text-anchor="middle" letter-spacing="0.5">1.8</text>
<text class="s" transform="translate(195.6 821.5) scale(1.05 1) rotate(-90)" font-size="19.3" text-anchor="middle" letter-spacing="0.6">3.5</text>
<text class="s" transform="translate(371.7 446.1) scale(0.98 1)" font-size="20.84" text-anchor="middle">Keepout area</text>
<text class="s" transform="translate(405.3 273.2) scale(0.98 1)" font-size="19.3" text-anchor="middle">19</text>
<text class="s" transform="translate(272.2 406.1) scale(1.05 1) rotate(-90)" font-size="19.3" text-anchor="middle">19</text>
<text class="b" x="68.8" y="74.3" font-size="13.4" letter-spacing="0.4">106</text>
<text class="b" x="81.2" y="87.4" font-size="13.4" letter-spacing="0.4">216</text>
<text class="b" x="93.2" y="99.2" font-size="13.4" letter-spacing="0.4">306</text>
<text class="b" x="105.8" y="111.3" font-size="13.4" letter-spacing="0.4">390</text>
<text class="b" x="117.8" y="124.4" font-size="13.4" letter-spacing="0.4">465</text>
<text class="b" x="734.2" y="75.2" font-size="13.4" letter-spacing="0.6">71</text>
<text class="b" x="720.4" y="87.5" font-size="13.4" letter-spacing="0.8">189</text>
<text class="b" x="706.2" y="99.3" font-size="13.4" letter-spacing="0.8">282</text>
<text class="b" x="693" y="111.3" font-size="13.4" letter-spacing="0.8">369</text>
<text class="b" x="679.8" y="124.5" font-size="13.4" letter-spacing="0.8">447</text>
<text class="b" x="118.4" y="695.6" font-size="13.4" letter-spacing="0.4">411</text>
<text class="b" x="106.4" y="707.4" font-size="13.4" letter-spacing="0.4">327</text>
<text class="b" x="93" y="719.7" font-size="13.4" letter-spacing="0.4">238</text>
<text class="b" x="83" y="732.7" font-size="13.4" letter-spacing="0.4">141</text>
<text class="b" x="74.4" y="744.7" font-size="13.4" letter-spacing="0.4">1</text>
<text class="b" x="680.2" y="695.5" font-size="13.4" letter-spacing="0.8">429</text>
<text class="b" x="693.4" y="707.6" font-size="13.4" letter-spacing="0.8">348</text>
<text class="b" x="706.5" y="719.6" font-size="13.4" letter-spacing="0.8">258</text>
<text class="b" x="720.6" y="732.5" font-size="13.4" letter-spacing="0.8">162</text>
<text class="b" x="735.6" y="744.5" font-size="13.4" letter-spacing="0.8">36</text>
</g>
</svg>
</body></html>
